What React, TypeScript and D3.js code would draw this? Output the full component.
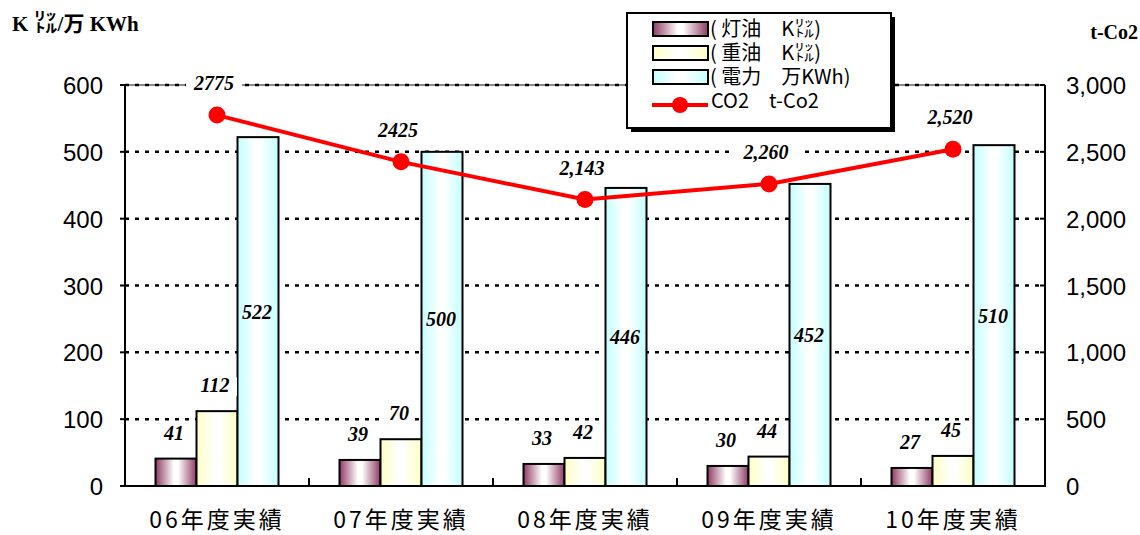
import React from "react";
import * as d3 from "d3";

const categories = ["06年度実績", "07年度実績", "08年度実績", "09年度実績", "10年度実績"];
const kerosene = [41, 39, 33, 30, 27];
const heavyOil = [112, 70, 42, 44, 45];
const power = [522, 500, 446, 452, 510];
const co2 = [2775, 2425, 2143, 2260, 2520];
const co2Labels = ["2775", "2425", "2,143", "2,260", "2,520"];
const leftTicks = [0, 100, 200, 300, 400, 500, 600];
const rightTicks = [0, 500, 1000, 1500, 2000, 2500, 3000];
const legendLabels = ["( 灯油　K㍑)", "( 重油　K㍑)", "( 電力　万KWh)", "CO2　t-Co2"];

const W = 1140, H = 535;
const L = 125, R = 1045, T = 85, B = 486;

export default function App() {
  const x = d3.scaleBand<string>().domain(categories).range([L, R]).padding(0);
  const yL = d3.scaleLinear().domain([0, 600]).range([B, T]);
  const yR = d3.scaleLinear().domain([0, 3000]).range([B, T]);
  const series = ["k", "h", "p"];
  const inner = d3.scaleBand<string>().domain(series).range([0, 123]);
  const groupOff = (x.bandwidth() - 123) / 2;
  const fills = ["url(#gK)", "url(#gH)", "url(#gP)"];
  const data = [kerosene, heavyOil, power];
  const cx = (c: string) => (x(c) as number) + x.bandwidth() / 2;
  const line = d3.line<number>().x((_, i) => cx(categories[i])).y((d) => yR(d));
  const labelFont = "'Liberation Serif', 'Times New Roman', serif";
  const sans = "'Liberation Sans', Arial, sans-serif";
  const cjk = "'Noto Sans CJK JP', 'Liberation Sans', sans-serif";
  const lf = 20;

  return (
    <svg width={W} height={H} style={{ position: "absolute", left: 0, top: 0, background: "#fff" }}>
      <defs>
        <linearGradient id="gK" x1="0" x2="1" y1="0" y2="0">
          <stop offset="0" stopColor="#8e3a63" />
          <stop offset="0.45" stopColor="#ffffff" />
          <stop offset="0.55" stopColor="#ffffff" />
          <stop offset="1" stopColor="#8e3a63" />
        </linearGradient>
        <linearGradient id="gH" x1="0" x2="1" y1="0" y2="0">
          <stop offset="0" stopColor="#ffffc4" />
          <stop offset="0.45" stopColor="#ffffff" />
          <stop offset="0.55" stopColor="#ffffff" />
          <stop offset="1" stopColor="#ffffc4" />
        </linearGradient>
        <linearGradient id="gP" x1="0" x2="1" y1="0" y2="0">
          <stop offset="0" stopColor="#c4ffff" />
          <stop offset="0.45" stopColor="#ffffff" />
          <stop offset="0.55" stopColor="#ffffff" />
          <stop offset="1" stopColor="#c4ffff" />
        </linearGradient>
      </defs>

      {/* titles */}
      <text x={12} y={31} fontFamily={labelFont} fontWeight="bold" fontSize={21}>
        K <tspan fontFamily={cjk} fontWeight="bold" fontSize={24}>㍑</tspan>/<tspan fontFamily={cjk} fontWeight="bold">万</tspan> KWh
      </text>
      <text x={1138} y={39} textAnchor="end" fontFamily={labelFont} fontWeight="bold" fontSize={20}>t-Co2</text>

      {/* top border */}
      <line x1={L} x2={R} y1={T} y2={T} stroke="#888" strokeWidth={2} />
      {/* gridlines */}
      {leftTicks.filter((t) => t > 0).map((t) => (
        <line key={t} x1={L} x2={R} y1={yL(t)} y2={yL(t)} stroke="#000" strokeWidth={2.5} strokeDasharray="4,6" />
      ))}

      {/* bars */}
      {categories.map((c, ci) => (
        <g key={c}>
          {series.map((s, si) => (
            <rect key={s}
              x={(x(c) as number) + groupOff + (inner(s) as number)}
              y={yL(data[si][ci])}
              width={inner.bandwidth()}
              height={B - yL(data[si][ci])}
              fill={fills[si]} stroke="#000" strokeWidth={2} />
          ))}
        </g>
      ))}

      {/* axes */}
      <line x1={L} x2={L} y1={T} y2={B} stroke="#000" strokeWidth={2} />
      <line x1={R} x2={R} y1={T} y2={B} stroke="#000" strokeWidth={2} />
      <line x1={L - 4} x2={R + 1} y1={B} y2={B} stroke="#000" strokeWidth={2} />
      {leftTicks.map((t) => (
        <g key={t}>
          <line x1={L - 5} x2={L} y1={yL(t)} y2={yL(t)} stroke="#000" strokeWidth={2} />
          <text x={103} y={yL(t) + 9} textAnchor="end" fontFamily={sans} fontSize={24}>{t}</text>
        </g>
      ))}
      {rightTicks.map((t) => (
        <g key={t}>
          <line x1={R - 5} x2={R} y1={yR(t)} y2={yR(t)} stroke="#000" strokeWidth={2} />
          <text x={1066} y={yR(t) + 9} textAnchor="start" fontFamily={sans} fontSize={24}>{d3.format(",")(t)}</text>
        </g>
      ))}
      {categories.slice(1).map((c) => (
        <line key={c} x1={x(c)} x2={x(c)} y1={B} y2={B - 8} stroke="#000" strokeWidth={2} />
      ))}
      {categories.map((c) => (
        <text key={c} x={cx(c)} y={528} textAnchor="middle" fontFamily={cjk} fontSize={23} letterSpacing={3}>{c}</text>
      ))}

      {/* bar labels */}
      {categories.map((c, ci) => (
        <g key={c} fontFamily={labelFont} fontStyle="italic" fontWeight="bold" fontSize={lf}>
          {[0, 1].map((si) => {
            const bx = (x(c) as number) + groupOff + (inner(series[si]) as number) + inner.bandwidth() / 2;
            const by = yL(data[si][ci]) - 19;
            const txt = String(data[si][ci]);
            return (
              <g key={si}>
                <rect x={bx - txt.length * 6 - 4} y={by - 15} width={txt.length * 12 + 6} height={19} fill="#fff" />
                <text x={bx - 2} y={by} textAnchor="middle">{txt}</text>
              </g>
            );
          })}
          <text x={(x(c) as number) + groupOff + (inner("p") as number) + inner.bandwidth() / 2 - 1}
            y={(yL(power[ci]) + B) / 2 + 7} textAnchor="middle">{power[ci]}</text>
        </g>
      ))}

      {/* CO2 line */}
      <path d={line(co2) || ""} fill="none" stroke="#ff0000" strokeWidth={4} />
      {co2.map((v, i) => (
        <circle key={i} cx={cx(categories[i])} cy={yR(v)} r={8.5} fill="#ff0000" />
      ))}
      {co2.map((v, i) => {
        const tx = cx(categories[i]) - 3;
        const ty = yR(v) - 25;
        const txt = co2Labels[i];
        const w = txt.length * 10 + 16;
        return (
          <g key={i}>
            <rect x={tx - w / 2} y={ty - 16} width={w} height={21} fill="#fff" />
            <text x={tx} y={ty} textAnchor="middle" fontFamily={labelFont} fontStyle="italic" fontWeight="bold" fontSize={lf}>{txt}</text>
          </g>
        );
      })}

      {/* legend */}
      <rect x={631} y={17} width={264} height={115} fill="#000" />
      <rect x={627} y={13} width={264} height={115} fill="#fff" stroke="#000" strokeWidth={2} />
      {[0, 1, 2].map((i) => (
        <rect key={i} x={653} y={22 + i * 24} width={55} height={14} fill={fills[i]} stroke="#000" strokeWidth={2} />
      ))}
      <line x1={652} x2={708} y1={105} y2={105} stroke="#ff0000" strokeWidth={4} />
      <circle cx={680} cy={105} r={8} fill="#ff0000" />
      {legendLabels.map((l, i) => (
        <text key={i} x={i === 3 ? 711 : 710} y={36 + i * 24} fontFamily={cjk} fontSize={20}>{l}</text>
      ))}
    </svg>
  );
}
